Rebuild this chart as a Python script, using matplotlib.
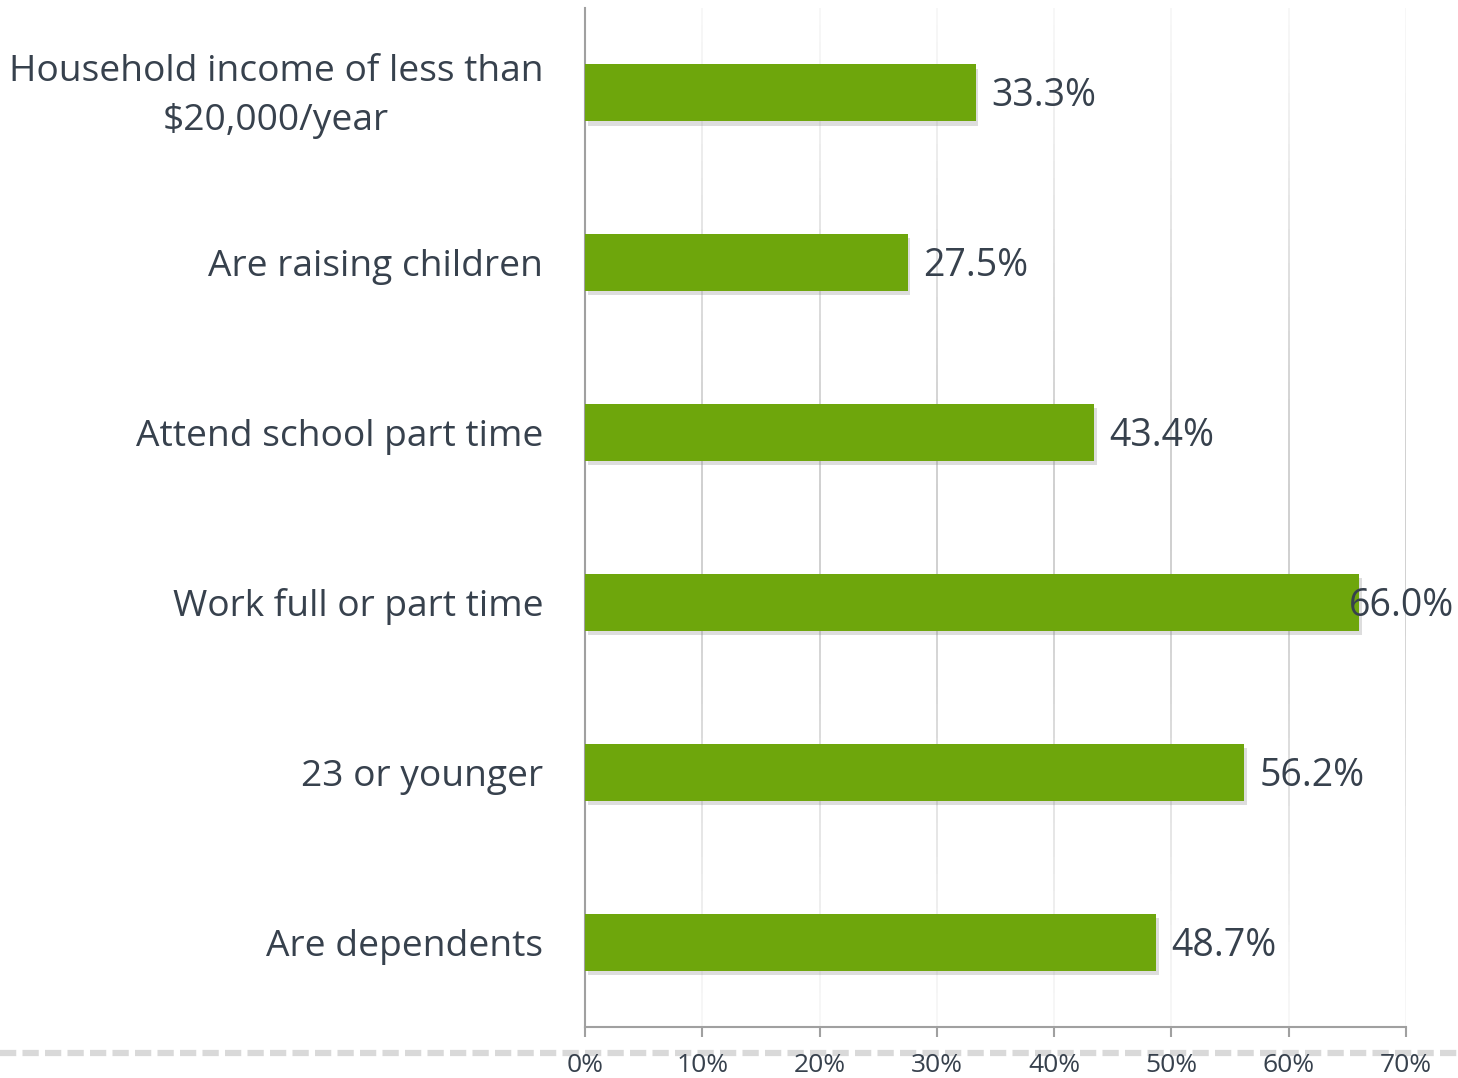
import matplotlib
matplotlib.use("Agg")
import matplotlib.pyplot as plt
import matplotlib.patheffects as pe
import matplotlib.transforms as mtransforms
from matplotlib.collections import LineCollection
from matplotlib.lines import Line2D
import numpy as np

categories = [
    "Household income of less than\n$20,000/year",
    "Are raising children",
    "Attend school part time",
    "Work full or part time",
    "23 or younger",
    "Are dependents",
]
values = [33.3, 27.5, 43.4, 66.0, 56.2, 48.7]
value_labels = ["33.3%", "27.5%", "43.4%", "66.0%", "56.2%", "48.7%"]
xticks = [0, 10, 20, 30, 40, 50, 60, 70]
xtick_labels = ["0%", "10%", "20%", "30%", "40%", "50%", "60%", "70%"]

plt.rcParams['font.family'] = ['Open Sans', 'DejaVu Sans']
text_color = '#37414d'
bar_color = '#6ea60c'

fig = plt.figure(figsize=(14.58, 10.78), dpi=100)
ax = fig.add_axes([585/1458, 1 - 1027/1078, (1406 - 585)/1458, (1027 - 8)/1078])

y = np.arange(len(categories))
bars = ax.barh(y, values, height=0.335, color=bar_color, zorder=3)
for b in bars:
    b.set_path_effects([pe.SimplePatchShadow(offset=(2, -3), shadow_rgbFace='#909090', alpha=0.3),
                        pe.Normal()])

ax.set_xlim(0, 70)
ax.set_ylim(len(categories) - 0.5, -0.5)

# gradient gridlines
ny = 60
ys = np.linspace(-0.5, len(categories) - 0.5, ny + 1)
for xv in xticks[1:]:
    segs = [[(xv, ys[i]), (xv, ys[i + 1])] for i in range(ny)]
    mid = (ys[:-1] + ys[1:]) / 2
    t = (mid - ys[0]) / (ys[-1] - ys[0])
    strength = np.clip(np.sin(np.pi * t) ** 1.5, 0, 1)
    cols = [(0.72, 0.72, 0.72, 0.12 + 0.6 * s) for s in strength]
    lc = LineCollection(segs, colors=cols, linewidths=1.3, zorder=1)
    ax.add_collection(lc)

for i, (v, lab) in enumerate(zip(values, value_labels)):
    dx = 11 if v < 60 else -7
    ax.annotate(lab, xy=(v, i), xytext=(dx, -2.5), textcoords='offset points',
                ha='left', va='center', fontsize=27, color=text_color, zorder=5)

ax.set_yticks(y)
ax.set_yticklabels(categories, fontsize=26.7, color=text_color, multialignment='center',
                   linespacing=1.45)
ax.tick_params(axis='y', length=0, pad=30)
shift = mtransforms.ScaledTranslation(0, 0.07, fig.dpi_scale_trans)
for lbl in ax.get_yticklabels():
    if '\n' in lbl.get_text():
        lbl.set_transform(lbl.get_transform() + shift)

ax.set_xticks(xticks)
ax.set_xticklabels(xtick_labels, fontsize=19, color=text_color)
ax.tick_params(axis='x', length=7, width=1.5, color='#a0a0a0', pad=12, direction='out')

for s in ['top', 'right']:
    ax.spines[s].set_visible(False)
for s in ['left', 'bottom']:
    ax.spines[s].set_color('#a0a0a0')
    ax.spines[s].set_linewidth(1.5)

# dashed separator line
yline = 1 - 1053/1078
fig.add_artist(Line2D([0, 1], [yline, yline], transform=fig.transFigure, color='#d9d9d9',
                      linewidth=4.5, linestyle=(0, (2.6, 1.0)), zorder=0))

fig.savefig("out.png", dpi=100)
